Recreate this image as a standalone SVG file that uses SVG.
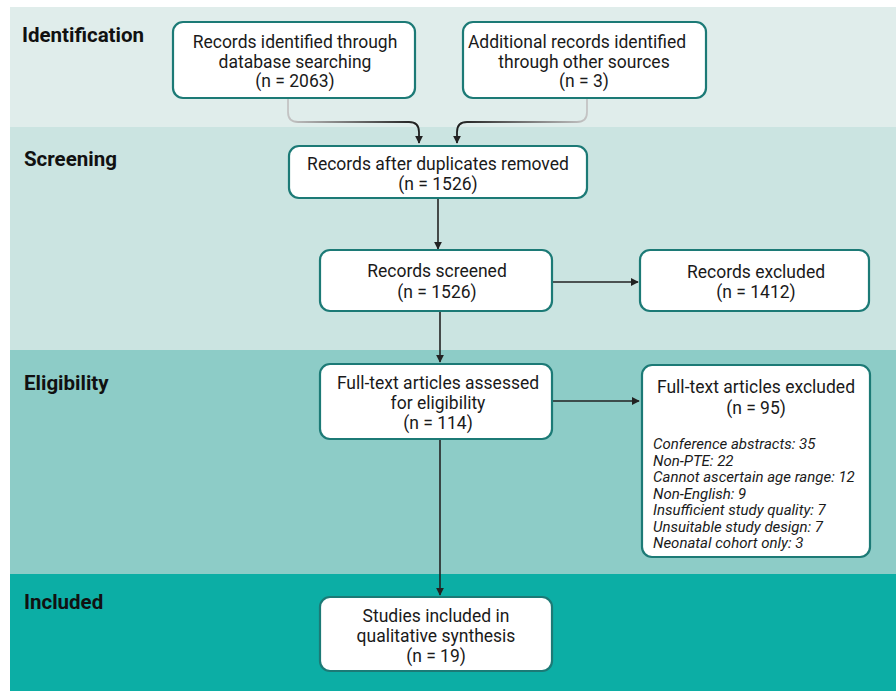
<svg xmlns="http://www.w3.org/2000/svg" width="896" height="691" viewBox="0 0 896 691">
<style>
.box{fill:#fff;stroke:#1c7a76;stroke-width:2.2}
.t{font-family:Roboto,"Liberation Sans",sans-serif;font-size:17.5px;fill:#1a1a1a;text-anchor:middle}
.it{font-family:Roboto,"Liberation Sans",sans-serif;font-size:15px;font-style:italic;fill:#1a1a1a}
.lab{font-family:Roboto,"Liberation Sans",sans-serif;font-size:20.5px;font-weight:bold;fill:#111}
.c{fill:none;stroke:#222;stroke-width:1.6}
</style>
<defs>
<marker id="ah" viewBox="0 0 10 10" refX="9" refY="5" markerWidth="8" markerHeight="8" markerUnits="userSpaceOnUse" orient="auto">
<path d="M0,0 L10,5 L0,10 z" fill="#222"/>
</marker>
<linearGradient id="g1" gradientUnits="userSpaceOnUse" x1="288" y1="0" x2="418" y2="0">
<stop offset="0" stop-color="#c4c4c4"/><stop offset="1" stop-color="#1e1e1e"/>
</linearGradient>
<linearGradient id="g2" gradientUnits="userSpaceOnUse" x1="587" y1="0" x2="457" y2="0">
<stop offset="0" stop-color="#c4c4c4"/><stop offset="1" stop-color="#1e1e1e"/>
</linearGradient>
</defs>
<rect x="0" y="0" width="896" height="691" fill="#fff"/>
<g id="bands">
<rect x="10" y="7" width="886" height="120" fill="#e0edeb"/>
<rect x="10" y="127" width="886" height="223" fill="#cbe4e1"/>
<rect x="10" y="350" width="886" height="224" fill="#8dccc7"/>
<rect x="10" y="574" width="886" height="117" fill="#0caea5"/>
<text class="lab" x="22" y="42">Identification</text>
<text class="lab" x="24" y="166">Screening</text>
<text class="lab" x="24" y="390">Eligibility</text>
<text class="lab" x="24" y="609">Included</text>
</g>
<g id="connectors">
<path d="M288,98 V112 Q288,122 298,122 H409 Q419,122 419,132 V143" fill="none" stroke="url(#g1)" stroke-width="1.8" marker-end="url(#ah)"/>
<path d="M587,98 V112 Q587,122 577,122 H467 Q457,122 457,132 V143" fill="none" stroke="url(#g2)" stroke-width="1.8" marker-end="url(#ah)"/>
<path class="c" d="M438,198 V249" marker-end="url(#ah)"/>
<path class="c" d="M440,311 V362" marker-end="url(#ah)"/>
<path class="c" d="M552,282 H638" marker-end="url(#ah)"/>
<path class="c" d="M552,401 H639" marker-end="url(#ah)"/>
<path class="c" d="M440,439 V595" marker-end="url(#ah)"/>
</g>
<g id="n1">
<rect class="box" x="173" y="22" width="242" height="76" rx="10"/>
<text class="t" x="295" y="48">Records identified through</text>
<text class="t" x="295" y="68">database searching</text>
<text class="t" x="295" y="87">(n = 2063)</text>
</g>
<g id="n2">
<rect class="box" x="463" y="22" width="243" height="76" rx="10"/>
<text class="t" x="577" y="48">Additional records identified</text>
<text class="t" x="584" y="68">through other sources</text>
<text class="t" x="584" y="87">(n = 3)</text>
</g>
<g id="n3">
<rect class="box" x="289" y="146" width="298" height="52" rx="10"/>
<text class="t" x="438" y="170">Records after duplicates removed</text>
<text class="t" x="438" y="190">(n = 1526)</text>
</g>
<g id="n4">
<rect class="box" x="320" y="250" width="232" height="61" rx="10"/>
<text class="t" x="437" y="277">Records screened</text>
<text class="t" x="437" y="298">(n = 1526)</text>
</g>
<g id="n5">
<rect class="box" x="640" y="250" width="229" height="61" rx="10"/>
<text class="t" x="756" y="278">Records excluded</text>
<text class="t" x="756" y="298">(n = 1412)</text>
</g>
<g id="n6">
<rect class="box" x="320" y="364" width="232" height="75" rx="10"/>
<text class="t" x="438" y="389">Full-text articles assessed</text>
<text class="t" x="438" y="409">for eligibility</text>
<text class="t" x="438" y="429">(n = 114)</text>
</g>
<g id="n7">
<rect class="box" x="642" y="365" width="228" height="192" rx="10"/>
<text class="t" x="756" y="393">Full-text articles excluded</text>
<text class="t" x="756" y="414">(n = 95)</text>
<text class="it" x="653" y="449">Conference abstracts: 35</text>
<text class="it" x="653" y="465.5">Non-PTE: 22</text>
<text class="it" x="653" y="482">Cannot ascertain age range: 12</text>
<text class="it" x="653" y="498.5">Non-English: 9</text>
<text class="it" x="653" y="515">Insufficient study quality: 7</text>
<text class="it" x="653" y="531.5">Unsuitable study design: 7</text>
<text class="it" x="653" y="548">Neonatal cohort only: 3</text>
</g>
<g id="n8">
<rect class="box" x="320" y="597" width="232" height="74" rx="10"/>
<text class="t" x="436" y="622">Studies included in</text>
<text class="t" x="436" y="642">qualitative synthesis</text>
<text class="t" x="436" y="662">(n = 19)</text>
</g>
</svg>
